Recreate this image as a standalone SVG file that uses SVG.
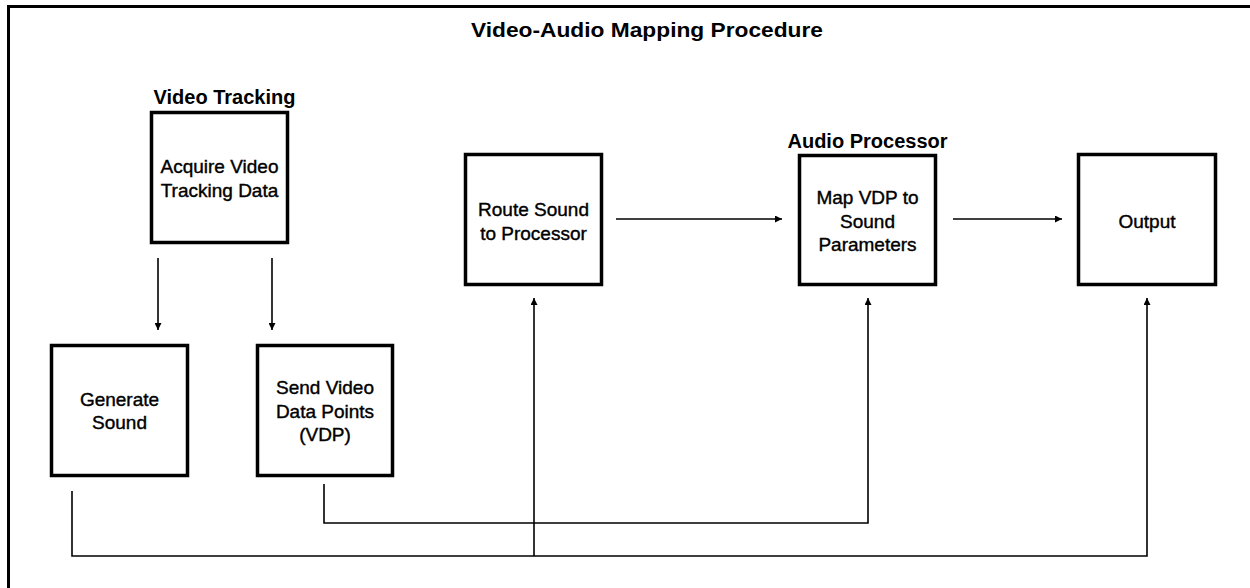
<svg xmlns="http://www.w3.org/2000/svg" width="1250" height="588" viewBox="0 0 1250 588">
<defs>
<style>
.box{fill:#fff;stroke:#000;stroke-width:3.5}
.lbl{font-family:"Liberation Sans",Arial,sans-serif;font-size:19px;fill:#000;stroke:#000;stroke-width:0.4;text-anchor:middle}
.hdr{font-family:"Liberation Sans",Arial,sans-serif;font-size:20px;font-weight:bold;fill:#000;text-anchor:middle}
.con{fill:none;stroke:#000;stroke-width:1.6}
</style>
<marker id="ah" viewBox="0 0 10 10" refX="10" refY="5" markerWidth="7" markerHeight="7" markerUnits="userSpaceOnUse" orient="auto">
<path d="M0,0 L10,5 L0,10 Z" fill="#000"/>
</marker>
</defs>
<rect width="1250" height="588" fill="#fff"/>
<g id="frame">
<rect x="8.5" y="6.5" width="1300" height="1000" fill="none" stroke="#000" stroke-width="3"/>
<text class="hdr" x="647" y="37" textLength="352" lengthAdjust="spacingAndGlyphs">Video-Audio Mapping Procedure</text>
</g>
<g id="connectors">
<path class="con" d="M158,258 V330" marker-end="url(#ah)"/>
<path class="con" d="M272,258 V330" marker-end="url(#ah)"/>
<path class="con" d="M616,219 H782" marker-end="url(#ah)"/>
<path class="con" d="M953,219 H1062" marker-end="url(#ah)"/>
<path class="con" d="M72,491 V556 H1147 V298" marker-end="url(#ah)"/>
<path class="con" d="M534,556 V298" marker-end="url(#ah)"/>
<path class="con" d="M324,484 V523 H868 V298" marker-end="url(#ah)"/>
</g>
<g id="acquire">
<text class="hdr" x="224.5" y="104">Video Tracking</text>
<rect class="box" x="151.5" y="112.5" width="136" height="130"/>
<text class="lbl" x="219.5" y="173">Acquire Video</text>
<text class="lbl" x="219.5" y="197">Tracking Data</text>
</g>
<g id="generate">
<rect class="box" x="51.5" y="345.5" width="136" height="130"/>
<text class="lbl" x="119.5" y="405.5">Generate</text>
<text class="lbl" x="119.5" y="429">Sound</text>
</g>
<g id="send">
<rect class="box" x="257.5" y="345.5" width="135" height="130"/>
<text class="lbl" x="325" y="394">Send Video</text>
<text class="lbl" x="325" y="417.5">Data Points</text>
<text class="lbl" x="325" y="441">(VDP)</text>
</g>
<g id="route">
<rect class="box" x="465.5" y="154.5" width="136" height="130"/>
<text class="lbl" x="533.5" y="216">Route Sound</text>
<text class="lbl" x="533.5" y="239.5">to Processor</text>
</g>
<g id="map">
<text class="hdr" x="867.5" y="148">Audio Processor</text>
<rect class="box" x="799.5" y="155.5" width="136" height="129"/>
<text class="lbl" x="867.5" y="204">Map VDP to</text>
<text class="lbl" x="867.5" y="227.5">Sound</text>
<text class="lbl" x="867.5" y="251">Parameters</text>
</g>
<g id="output">
<rect class="box" x="1078.5" y="154.5" width="137" height="130"/>
<text class="lbl" x="1147" y="227.5">Output</text>
</g>
</svg>
